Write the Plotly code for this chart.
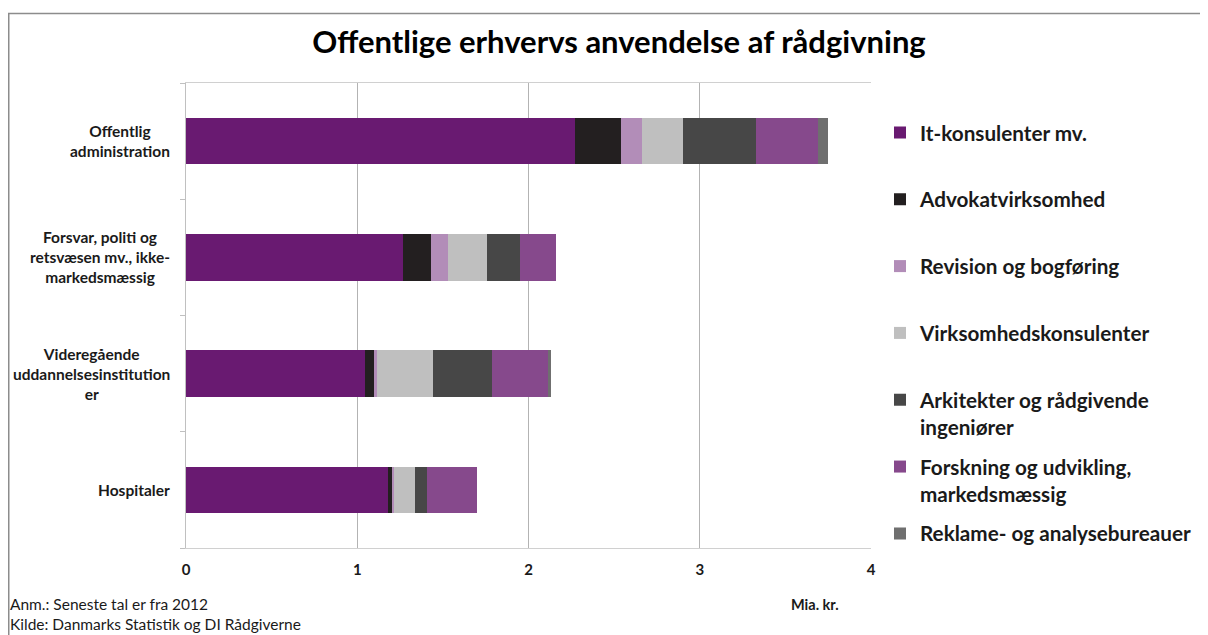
import plotly.graph_objects as go

categories = ["Offentlig<br>administration",
              "Forsvar, politi og<br>retsvæsen mv., ikke-<br>markedsmæssig",
              "Videregående<br>uddannelsesinstitution<br>er",
              "Hospitaler"]
cat_keys = ["Offentlig administration", "Forsvar", "Videregående", "Hospitaler"]

series_names = ["It-konsulenter mv.",
                "Advokatvirksomhed",
                "Revision og bogføring",
                "Virksomhedskonsulenter",
                "Arkitekter og rådgivende<br>ingeniører",
                "Forskning og udvikling,<br>markedsmæssig",
                "Reklame- og analysebureauer"]

it_konsulenter = [2.27, 1.27, 1.045, 1.18]
advokat = [0.27, 0.16, 0.055, 0.023]
revision = [0.12, 0.10, 0.014, 0.010]
virksomhedskons = [0.24, 0.23, 0.33, 0.127]
arkitekter = [0.43, 0.19, 0.34, 0.068]
forskning = [0.36, 0.21, 0.33, 0.29]
reklame = [0.06, 0.0, 0.015, 0.0]

series_values = [it_konsulenter, advokat, revision, virksomhedskons,
                 arkitekter, forskning, reklame]
colors = ["#691A71", "#231F20", "#B28DB8", "#BFBFBF", "#474747", "#86498C", "#6F6F6F"]

x_ticks = [0, 1, 2, 3, 4]

FONT = "Lato"

# figure is placed by the page at an 8px offset; work in figure pixels
W, H = 1200, 627
L, T, R, B = 178, 75, 337, 87
PW, PH = W - L - R, H - T - B


def px(xf):
    return (xf - L) / PW


def py(yf):
    return 1 - (yf - T) / PH


fig = go.Figure()
for i, (name, vals, col) in enumerate(zip(series_names, series_values, colors)):
    label = name if "<br>" in name or i == len(series_names) - 1 else name + "<br> "
    fig.add_trace(go.Bar(
        y=cat_keys, x=vals, name=label, orientation="h",
        marker=dict(color=col, line=dict(width=0)),
        legendgroup=str(i), width=0.4,
    ))

# category labels (centered lines, right-aligned block)
for key, lab in zip(cat_keys, categories):
    fig.add_annotation(x=0, xref="paper", y=key, yref="y", text=lab,
                       xanchor="right", yanchor="middle", align="center",
                       showarrow=False, xshift=-14,
                       font=dict(family=FONT, size=15.5, color="#1a1a1a", weight="bold"))

# footnotes
fig.add_annotation(x=px(0), xref="paper", y=py(596), yref="paper",
                   text="Anm.: Seneste tal er fra 2012", xanchor="left", yanchor="middle",
                   showarrow=False, font=dict(family=FONT, size=15.5, color="#1a1a1a"))
fig.add_annotation(x=px(0), xref="paper", y=py(616), yref="paper",
                   text="Kilde: Danmarks Statistik og DI Rådgiverne", xanchor="left", yanchor="middle",
                   showarrow=False, font=dict(family=FONT, size=15.5, color="#1a1a1a"))
fig.add_annotation(x=px(833), xref="paper", y=py(596), yref="paper",
                   text="Mia. kr.", xanchor="right", yanchor="middle",
                   showarrow=False, font=dict(family=FONT, size=14.5, color="#1a1a1a", weight="bold"))

# outer frame
fig.add_shape(type="rect", xref="paper", yref="paper",
              x0=px(0.75), x1=px(1215), y0=py(640), y1=py(5.5),
              line=dict(color="#8c8c8c", width=1.5), fillcolor="rgba(0,0,0,0)", layer="below")

fig.update_layout(
    width=W, height=H,
    barmode="stack",
    paper_bgcolor="white", plot_bgcolor="white",
    margin=dict(l=L, r=R, t=T, b=B),
    title=dict(text="Offentlige erhvervs anvendelse af rådgivning",
               x=611 / W, xanchor="center", y=1 - 34 / H, yanchor="middle",
               font=dict(family=FONT, size=31, color="#000000", weight="bold")),
    font=dict(family=FONT, color="#1a1a1a"),
    showlegend=True,
    legend=dict(x=px(872), xanchor="left", y=py(104.5), yanchor="top",
                traceorder="grouped", tracegroupgap=10, valign="top",
                font=dict(family=FONT, size=20.7, color="#1a1a1a", weight="bold"),
                bgcolor="rgba(0,0,0,0)"),
    xaxis=dict(range=[0, 4], tickvals=x_ticks, ticktext=[str(v) for v in x_ticks],
               showgrid=True, gridcolor="#b3b3b3", gridwidth=1,
               showline=True, linecolor="#d0d0d0", linewidth=1, mirror=True,
               zeroline=False, ticks="", ticklabelstandoff=8,
               tickfont=dict(family=FONT, size=15, color="#1a1a1a", weight="bold")),
    yaxis=dict(categoryorder="array", categoryarray=cat_keys[::-1],
               showticklabels=False, showgrid=False, zeroline=False,
               showline=True, linecolor="#c0c0c0", linewidth=1,
               ticks="outside", tickson="boundaries", ticklen=5, tickcolor="#c0c0c0"),
)

fig.write_html("out.html")
